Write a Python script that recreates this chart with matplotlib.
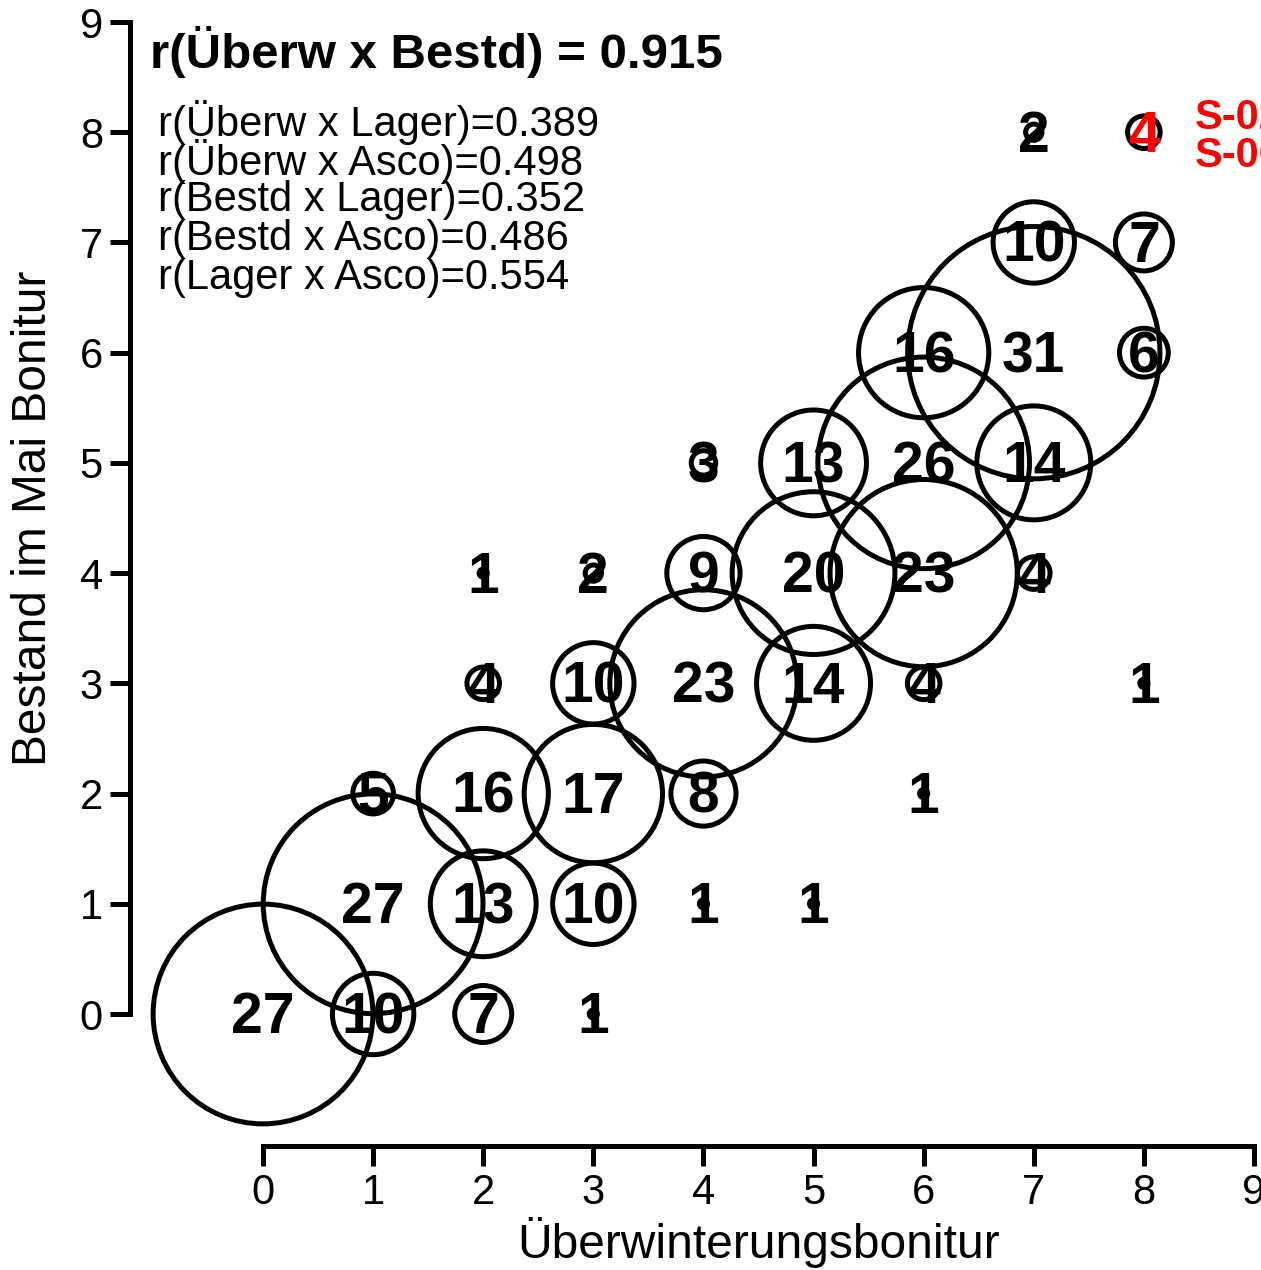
import numpy as np
import matplotlib
matplotlib.use("Agg")
import matplotlib.pyplot as plt

plt.rcParams['font.family'] = ['Liberation Sans', 'DejaVu Sans']

# counts per (Ueberwinterung, Bestand) cell
ueberw = [0, 1, 2, 3,
          1, 2, 3, 4, 5,
          1, 2, 3, 4, 6,
          2, 3, 4, 5, 6, 8,
          2, 3, 4, 5, 6, 7,
          4, 5, 6, 7,
          6, 7, 8,
          7, 8,
          7, 8]
bestand = [0, 0, 0, 0,
           1, 1, 1, 1, 1,
           2, 2, 2, 2, 2,
           3, 3, 3, 3, 3, 3,
           4, 4, 4, 4, 4, 4,
           5, 5, 5, 5,
           6, 6, 6,
           7, 7,
           8, 8]
counts = [27, 10, 7, 1,
          27, 13, 10, 1, 1,
          5, 16, 17, 8, 1,
          4, 10, 23, 14, 4, 1,
          1, 2, 9, 20, 23, 4,
          3, 13, 26, 14,
          16, 31, 6,
          10, 7,
          2, 4]
highlight = [(8, 8)]
highlight_names = ["S-02", "S-00"]

r_main = ("Überw x Bestd", 0.915)
r_pairs = ["Überw x Lager", "Überw x Asco", "Bestd x Lager", "Bestd x Asco", "Lager x Asco"]
r_vals = [0.389, 0.498, 0.352, 0.486, 0.554]

W, H = 1261, 1270
fig = plt.figure(figsize=(W / 100, H / 100), dpi=100)
# axes from spine positions (pixels)
ax = fig.add_axes([130 / W, (H - 1146) / H, (W - 130) / W, 1146 / H])
ppu_x = (1254 - 263) / 9
ppu_y = (1014 - 22) / 9
ax.set_xlim(-(263 - 130) / ppu_x, (W - 263) / ppu_x)
ax.set_ylim(-(1146 - 1014) / ppu_y, 1014 / ppu_y)

x = np.array(ueberw)
y = np.array(bestand)
n = np.array(counts)
diam_pt = 5.86 * n
ax.scatter(x, y, s=diam_pt ** 2, facecolors='none', edgecolors='black',
           linewidths=3.6, clip_on=False, zorder=2)
for xi, yi, ni in zip(x, y, n):
    col = 'red' if (xi, yi) in highlight else 'black'
    ax.text(xi, yi - 0.04, str(ni), fontsize=41, fontweight='bold', color=col,
            ha='center', va='center', zorder=3, clip_on=False)

# highlighted labels at the right edge
for i, name in enumerate(highlight_names):
    ax.text(8.465, 8.13 - 0.345 * i, name, fontsize=30, fontweight='bold',
            color='red', ha='left', va='center', clip_on=False)

ax.text((150 - 263) / ppu_x, 8.725, "r(%s) = %.3f" % r_main,
        fontsize=35.5, fontweight='bold', ha='left', va='center')
for i, (p, v) in enumerate(zip(r_pairs, r_vals)):
    ax.text((158 - 263) / ppu_x, 8.09 - 0.354 * i, "r(%s)=%.3f" % (p, v),
            fontsize=30, ha='left', va='center')

for s in ['top', 'right']:
    ax.spines[s].set_visible(False)
ax.spines['left'].set_bounds(0, 9)
ax.spines['bottom'].set_bounds(0, 9)
ax.spines['left'].set_linewidth(3.6)
ax.spines['bottom'].set_linewidth(3.6)
ax.set_xticks(range(10))
ax.set_yticks(range(10))
ax.tick_params(length=14.5, width=3.6, labelsize=30, pad=5)
ax.set_xlabel("Überwinterungsbonitur", fontsize=34.5)
ax.set_ylabel("Bestand im Mai Bonitur", fontsize=34.5)
ax.xaxis.set_label_coords(4.5, -(1243 - 1014) / ppu_y, transform=ax.transData)
ax.yaxis.set_label_coords(-(263 - 33) / ppu_x, 4.5, transform=ax.transData)
ax.xaxis.label.set_va('center')
ax.yaxis.label.set_va('center')
ax.patch.set_alpha(0)

fig.savefig("out.png", dpi=100)
